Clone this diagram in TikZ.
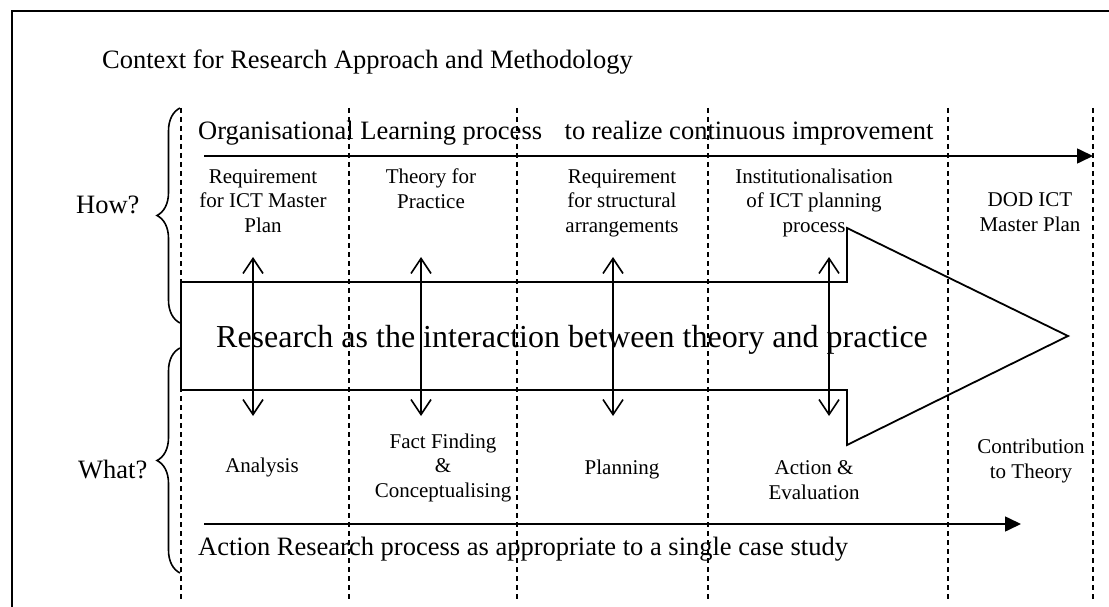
\documentclass[tikz,border=0pt]{standalone}
\usepackage{fontspec}
\setmainfont{Liberation Serif}
\usetikzlibrary{arrows.meta,decorations.pathreplacing}

\begin{document}
\begin{tikzpicture}[
  x=1pt, y=-1pt,
  bigtxt/.style={font=\fontsize{26.5}{31}\selectfont, inner sep=0pt, anchor=base west},
  lbl/.style={font=\fontsize{21}{24.5}\selectfont, align=center, inner sep=0pt, anchor=base}, % base = last line
  divider/.style={draw=black, line width=1.4pt, dash pattern=on 5pt off 4pt},   % phase boundaries
  flow/.style={-{Triangle[length=16pt,width=15pt]}, line width=1.6pt},            % process direction
  interact/.style={{Straight Barb[length=15pt,width=20pt]}-{Straight Barb[length=15pt,width=20pt]}, line width=1.6pt},
  bigarrow/.style={draw=black, line width=1.8pt, line join=miter},
  qbrace/.style={decorate, decoration={brace, amplitude=23pt}, line width=1.6pt},
]
\useasboundingbox (0,0) rectangle (1109,607);

% ============================== frame & title ==============================
\draw[line width=2pt] (12,607) -- (12,11) -- (1109,11);
\node[bigtxt] (title) at (102,69) {Context for Research Approach and Methodology};

% ============================== phase boundaries ==============================
\foreach \x in {181,349,517,708,948,1093}{
  \draw[divider] (\x,108) -- (\x,599);
}

% ============================== how / what ==============================
\draw[qbrace] (180,323) -- (180,108);
\draw[qbrace] (180,573) -- (180,348);
\node[bigtxt] (how)  at (76,213) {How?};
\node[bigtxt] (what) at (78,478) {What?};

% ============================== process arrows ==============================
\node[bigtxt] (olp) at (198,140) {Organisational Learning process\hspace{16pt} to realize continuous improvement};
\coordinate (olp-s) at (204,156);
\coordinate (olp-e) at (1093,156);
\draw[flow] (olp-s) -- (olp-e);

\node[bigtxt] (arp) at (198,555) {Action Research process as appropriate to a single case study};
\coordinate (arp-s) at (204,524);
\coordinate (arp-e) at (1021,524);
\draw[flow] (arp-s) -- (arp-e);

% ============================== research arrow ==============================
\draw[bigarrow] (181,282) -- (847,282) -- (847,228) -- (1068,336)
                -- (847,445) -- (847,390) -- (181,390) -- cycle;
\node[font=\fontsize{32}{36}\selectfont, inner sep=0pt, anchor=base] (research) at (572,347)
   {Research as the interaction between theory and practice};

% theory <-> practice
\foreach \x [count=\i] in {253,421,613,829}{
  \coordinate (up\i) at (\x,257);
  \coordinate (dn\i) at (\x,416);
  \draw[interact] (dn\i) -- (up\i);
}

% ============================== phase labels ==============================
\node[lbl] (t1) at (263,232)  {Requirement\\for ICT Master\\Plan};
\node[lbl] (t2) at (431,208)  {Theory for\\Practice};
\node[lbl] (t3) at (622,232)  {Requirement\\for structural\\arrangements};
\node[lbl] (t4) at (814,232)  {Institutionalisation\\of ICT planning\\process};
\node[lbl] (t5) at (1030,231) {DOD ICT\\Master Plan};

\node[lbl] (b1) at (262,472)  {Analysis};
\node[lbl] (b2) at (443,497)  {Fact Finding\\\&\\Conceptualising};
\node[lbl] (b3) at (622,474)  {Planning};
\node[lbl] (b4) at (814,499)  {Action \&\\Evaluation};
\node[lbl] (b5) at (1031,478) {Contribution\\to Theory};
\end{tikzpicture}
\end{document}
